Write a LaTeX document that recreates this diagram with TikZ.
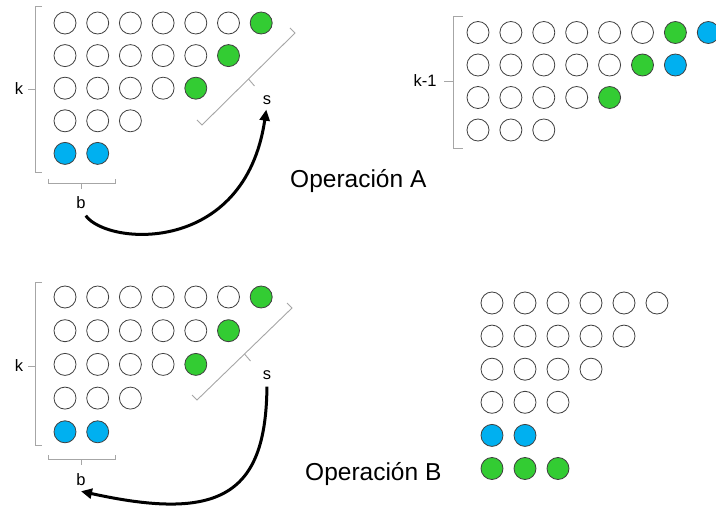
\documentclass[tikz,border=0pt]{standalone}
\usepackage{fontspec}
\setmainfont{Liberation Sans}
\usetikzlibrary{arrows.meta, positioning, calc}
\definecolor{ballgreen}{HTML}{33CC33}
\definecolor{ballblue}{HTML}{00B0F0}
\definecolor{ballring}{HTML}{404040}
\definecolor{bracegray}{HTML}{A6A6A6}

\begin{document}
\begin{tikzpicture}[
    x=1pt, y=-1pt,
    >={Triangle[length=11pt,width=10pt]},
    every node/.style={inner sep=0pt},
    ball/.style={
        circle, draw=ballring, line width=0.8pt,
        fill=white, minimum size=22pt
    },
    gball/.style={ball, fill=ballgreen},
    bball/.style={ball, fill=ballblue},
    brace/.style={draw=bracegray, line width=0.9pt},
    tag/.style={font=\fontsize{16.5}{19}\selectfont},
    title/.style={font=\fontsize{24.5}{29}\selectfont, anchor=base west},
    arrstyle/.style={->, line width=3pt, black},
]
\useasboundingbox (0,0) rectangle (716,508);

% === Operation A, before ===
\foreach \n [count=\r from 0] in {6,5,4,3} {
    \foreach \c in {1,...,\n} {
        \node[ball] (a\r-\c) at ({65+32.7*(\c-1)}, {23+32.6*\r}) {};
    }
}
\foreach \c [count=\r from 0] in {7,6,5} {
    \node[gball] (ag\r) at ({65+32.7*(\c-1)}, {23+32.6*\r}) {};
}
\foreach \c in {1,2} {
    \node[bball] (ab\c) at ({65+32.7*(\c-1)}, {23+32.6*4}) {};
}

% k brace
\draw[brace] (42,6) -- (35,6) -- (35,172) -- (42,172);
\draw[brace] (35,89) -- (28,89);
\node[tag] (kA) at (19,89) {k};

% b brace
\draw[brace] (48,179) -- (48,183) -- (115,183) -- (115,179);
\draw[brace] (81,183) -- (81,189);
\node[tag] (bA) at (81,203) {b};

% s brace (diagonal)
\draw[brace] (197,120) -- (202,125) -- (295,33) -- (290,28);
\draw[brace] ($(202,125)!0.5!(295,33)$) -- ++(6,7);
\node[tag] (sA) at (267,100) {s};

% === Operation A, after ===
\foreach \n [count=\r from 0] in {6,5,4,3} {
    \foreach \c in {1,...,\n} {
        \node[ball] (c\r-\c) at ({478+32.9*(\c-1)}, {32.5+32.5*\r}) {};
    }
}
\foreach \c [count=\r from 0] in {7,6,5} {
    \node[gball] (cg\r) at ({478+32.9*(\c-1)}, {32.5+32.5*\r}) {};
}
\foreach \c [count=\r from 0] in {8,7} {
    \node[bball] (cb\r) at ({478+32.9*(\c-1)}, {32.5+32.5*\r}) {};
}

\draw[brace] (463,16) -- (453,16) -- (453,148) -- (463,148);
\draw[brace] (453,81) -- (444,81);
\node[tag] (kAA) at (425,81) {k-1};

\node[title] (opA) at (290,188) {Operación A};

% === Operation B, before ===
\foreach \n [count=\r from 0] in {6,5,4,3} {
    \foreach \c in {1,...,\n} {
        \node[ball] (d\r-\c) at ({65+32.7*(\c-1)}, {297+33.7*\r}) {};
    }
}
\foreach \c [count=\r from 0] in {7,6,5} {
    \node[gball] (dg\r) at ({65+32.7*(\c-1)}, {297+33.7*\r}) {};
}
\foreach \c in {1,2} {
    \node[bball] (db\c) at ({65+32.7*(\c-1)}, {297+33.7*4}) {};
}

\draw[brace] (42,282) -- (35,282) -- (35,445) -- (42,445);
\draw[brace] (35,366) -- (28,366);
\node[tag] (kB) at (19,366) {k};

\draw[brace] (48,455) -- (48,459) -- (115,459) -- (115,455);
\draw[brace] (81,459) -- (81,465);
\node[tag] (bB) at (81,480) {b};

\draw[brace] (192,395) -- (197,400) -- (292,308) -- (287,303);
\draw[brace] ($(197,400)!0.5!(292,308)$) -- ++(6,7);
\node[tag] (sB) at (267,375) {s};

% === Operation B, after ===
\foreach \n [count=\r from 0] in {6,5,4,3} {
    \foreach \c in {1,...,\n} {
        \node[ball] (e\r-\c) at ({492+33*(\c-1)}, {303+33.1*\r}) {};
    }
}
\foreach \c in {1,2} {
    \node[bball] (eb\c) at ({492+33*(\c-1)}, {303+33.1*4}) {};
}
\foreach \c in {1,2,3} {
    \node[gball] (eg\c) at ({492+33*(\c-1)}, {303+33.1*5}) {};
}

\node[title] (opB) at (305,480) {Operación B};

% === Arrows ===
\draw[arrstyle, shorten <=8pt, shorten >=5pt]
    (bA.south) .. controls (108,246) and (245,255) .. (sA.south);
\draw[arrstyle, shorten <=7pt]
    (sB.south) .. controls (266,495) and (220,522) .. ([yshift=-5pt]bB.south);

\end{tikzpicture}
\end{document}
